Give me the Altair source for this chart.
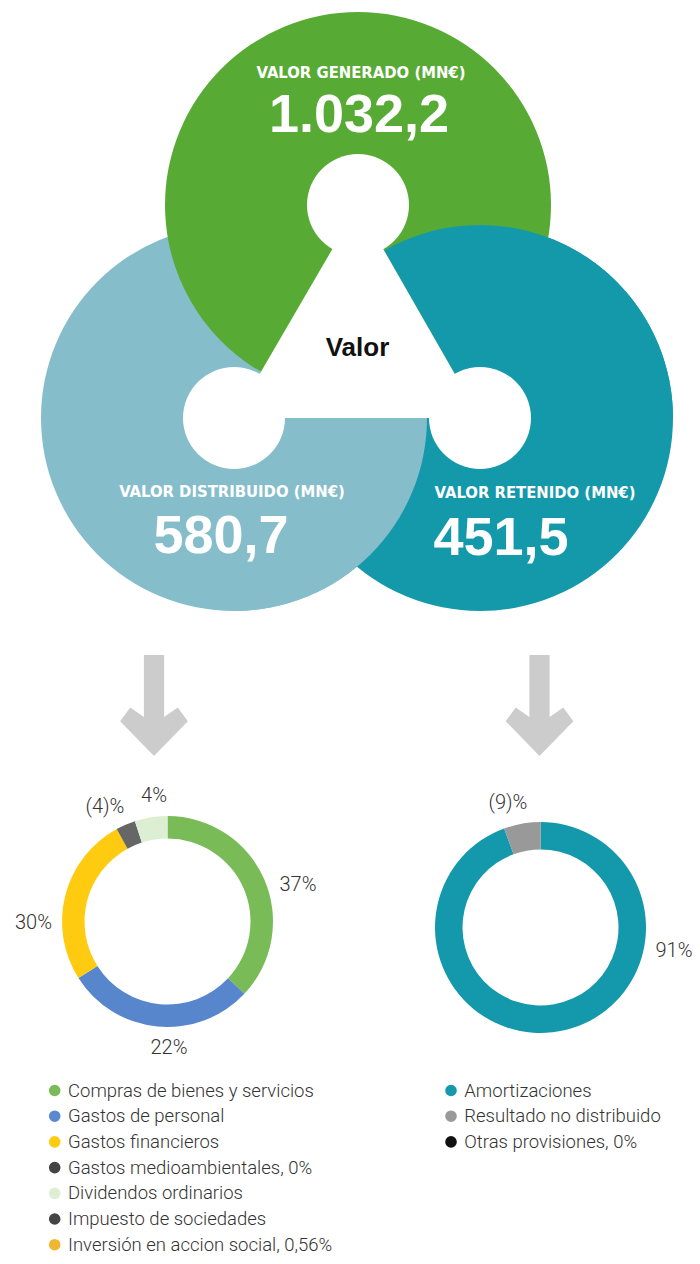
import math
import altair as alt
import pandas as pd

# ---------------- chart values ----------------
bloque_titulos = ["VALOR GENERADO (MN€)", "VALOR DISTRIBUIDO (MN€)", "VALOR RETENIDO (MN€)"]
bloque_cifras = ["1.032,2", "580,7", "451,5"]
centro_titulo = "Valor"

dist_categorias = ["Compras de bienes y servicios", "Gastos de personal", "Gastos financieros",
                   "Impuesto de sociedades", "Dividendos ordinarios"]
dist_valores = [37, 29, 26, 3, 5]
dist_etiquetas = ["37%", "22%", "30%", "(4)%", "4%"]

ret_categorias = ["Amortizaciones", "Resultado no distribuido"]
ret_valores = [94.4, 5.6]
ret_etiquetas = ["91%", "(9)%"]

leyenda_izq = ["Compras de bienes y servicios", "Gastos de personal", "Gastos financieros",
               "Gastos medioambientales, 0%", "Dividendos ordinarios", "Impuesto de sociedades",
               "Inversión en accion social, 0,56%"]
leyenda_der = ["Amortizaciones", "Resultado no distribuido", "Otras provisiones, 0%"]

# ---------------- styles ----------------
C_GEN, C_DIS, C_RET = "#57ab35", "#86bdcb", "#1499ab"
dist_colores = ["#79bb57", "#5786cc", "#ffcb11", "#666666", "#dcefd3"]
ret_colores = ["#1399ab", "#999999"]
leyenda_izq_col = ["#79bb57", "#5a89d1", "#ffcc11", "#444444", "#dcefd3", "#444444", "#f0b830"]
leyenda_der_col = ["#1399ab", "#999999", "#111111"]
TXT = "#333333"
LIGHT_FONT = "Roboto"
COND_FONT = "DejaVu Sans Condensed, Roboto, sans-serif"
BOLD_FONT = "Liberation Sans"

# ---------------- layout (page coordinates) ----------------
R_BIG, R_SMALL = 193, 51
centros = {"gen": (358, 205), "dis": (234, 418), "ret": (480, 418)}
W, H = 684, 1248
XS = alt.Scale(domain=[8, 8 + W], nice=False, zero=False)
YS = alt.Scale(domain=[8, 8 + H], nice=False, zero=False, reverse=True)


def pos(df, xf="x", yf="y"):
    return dict(x=alt.X(f"{xf}:Q", scale=XS, axis=None), y=alt.Y(f"{yf}:Q", scale=YS, axis=None))


def base(df):
    return alt.Chart(df)


layers = []

# big discs (z-order: distribuido, retenido, generado)
discos = pd.DataFrame({
    "x": [centros["dis"][0], centros["ret"][0], centros["gen"][0]],
    "y": [centros["dis"][1], centros["ret"][1], centros["gen"][1]],
    "c": [C_DIS, C_RET, C_GEN],
})
layers.append(base(discos).mark_arc(radius=R_BIG, theta=0, theta2=2 * math.pi).encode(
    color=alt.Color("c:N", scale=None), **pos(discos)))

# retenido sector on top of generado
gx, gy = centros["gen"]
rx, ry = centros["ret"]
ang = math.atan2(gx - rx, -(gy - ry)) % (2 * math.pi)
sec_ret = pd.DataFrame({"x": [rx], "y": [ry]})
layers.append(base(sec_ret).mark_arc(radius=R_BIG, theta=ang, theta2=2 * math.pi + math.pi / 2,
                                     color=C_RET).encode(**pos(sec_ret)))
# distribuido sector on top of retenido
dx_, dy_ = centros["dis"]
sec_dis = pd.DataFrame({"x": [dx_], "y": [dy_]})
layers.append(base(sec_dis).mark_arc(radius=R_BIG, theta=math.pi / 2, theta2=math.pi,
                                     color=C_DIS).encode(**pos(sec_dis)))

# white triangle joining the centres
xs = [c[0] for c in centros.values()]
ys = [c[1] for c in centros.values()]
tcx, tcy = (min(xs) + max(xs)) / 2, (min(ys) + max(ys)) / 2
half = max(max(xs) - min(xs), max(ys) - min(ys)) / 2
path = "M " + " L ".join(
    f"{(cx - tcx) / half:.4f},{(cy - tcy) / half:.4f}" for cx, cy in centros.values()) + " Z"
tri = pd.DataFrame({"x": [tcx], "y": [tcy]})
layers.append(base(tri).mark_point(shape=path, size=(2 * half) ** 2, filled=True, color="white",
                                   opacity=1, strokeWidth=0).encode(**pos(tri)))
# small white discs
peq = pd.DataFrame({"x": xs, "y": ys})
layers.append(base(peq).mark_arc(radius=R_SMALL, theta=0, theta2=2 * math.pi, color="white").encode(**pos(peq)))

# headline texts
tit = pd.DataFrame({"t": bloque_titulos, "x": [361, 232, 535], "y": [78, 497, 498]})
layers.append(base(tit).mark_text(font=COND_FONT, fontWeight="bold", fontSize=16.5, color="white",
                                  align="center", baseline="alphabetic").encode(text="t:N", **pos(tit)))
cif = pd.DataFrame({"t": bloque_cifras, "x": [359, 221, 501], "y": [132, 553, 555]})
layers.append(base(cif).mark_text(font=BOLD_FONT, fontWeight="bold", fontSize=54, color="white",
                                  align="center", baseline="alphabetic").encode(text="t:N", **pos(cif)))
cen = pd.DataFrame({"t": [centro_titulo], "x": [357.5], "y": [356]})
layers.append(base(cen).mark_text(font=BOLD_FONT, fontWeight="bold", fontSize=26, color="#111111",
                                  align="center", baseline="alphabetic").encode(text="t:N", **pos(cen)))

# arrows
arrow_path = "M -0.2,-1 L 0.2,-1 L 0.2,0.23 L 0.47,0.04 L 0.67,0.31 L 0,1 L -0.67,0.31 L -0.47,0.04 L -0.2,0.23 Z"
arr = pd.DataFrame({"x": [154, 539.5], "y": [705.5, 705.5]})
layers.append(base(arr).mark_point(shape=arrow_path, size=101 ** 2, filled=True, color="#cccccc",
                                   opacity=1, strokeWidth=0).encode(**pos(arr)))

# donuts
dist = pd.DataFrame({"cat": dist_categorias, "v": dist_valores, "c": dist_colores,
                     "i": range(len(dist_valores)), "x": 167.5, "y": 921.5})
layers.append(base(dist).mark_arc(radius=105.5, radius2=83).encode(
    theta=alt.Theta("v:Q", stack=True), order=alt.Order("i:Q"),
    color=alt.Color("c:N", scale=None), **pos(dist)))
ret = pd.DataFrame({"cat": ret_categorias, "v": ret_valores, "c": ret_colores,
                    "i": range(len(ret_valores)), "x": 540.5, "y": 927.5})
layers.append(base(ret).mark_arc(radius=105.5, radius2=78).encode(
    theta=alt.Theta("v:Q", stack=True), order=alt.Order("i:Q"),
    color=alt.Color("c:N", scale=None), **pos(ret)))

# donut labels
lab = pd.DataFrame({
    "t": dist_etiquetas + ret_etiquetas,
    "x": [298, 169, 33.5, 105, 154, 674, 508],
    "y": [891, 1054, 929, 813, 802, 957, 809],
})
layers.append(base(lab).mark_text(font=LIGHT_FONT, fontWeight=300, fontSize=20, color=TXT,
                                  align="center", baseline="alphabetic").encode(text="t:N", **pos(lab)))

# legends
ROW0, DROW = 1090.5, 25.7
leg = pd.DataFrame({
    "t": leyenda_izq + leyenda_der,
    "c": leyenda_izq_col + leyenda_der_col,
    "x": [54.7] * len(leyenda_izq) + [451] * len(leyenda_der),
    "y": [ROW0 + i * DROW for i in range(len(leyenda_izq))] + [ROW0 + i * DROW for i in range(len(leyenda_der))],
})
leg["xt"] = leg["x"] + 13.3
layers.append(base(leg).mark_point(shape="circle", size=135, filled=True, opacity=1, strokeWidth=0).encode(
    color=alt.Color("c:N", scale=None), **pos(leg)))
layers.append(base(leg).mark_text(font=LIGHT_FONT, fontWeight=300, fontSize=18.5, color=TXT,
                                  align="left", baseline="middle").encode(text="t:N", **pos(leg, "xt", "y")))

chart = alt.layer(*layers).properties(width=W, height=H, padding=0, background="white",
                                      autosize=alt.AutoSizeParams(type="none")).configure_view(stroke=None)

chart.save("out.html", embed_options={"renderer": "svg", "actions": False})
